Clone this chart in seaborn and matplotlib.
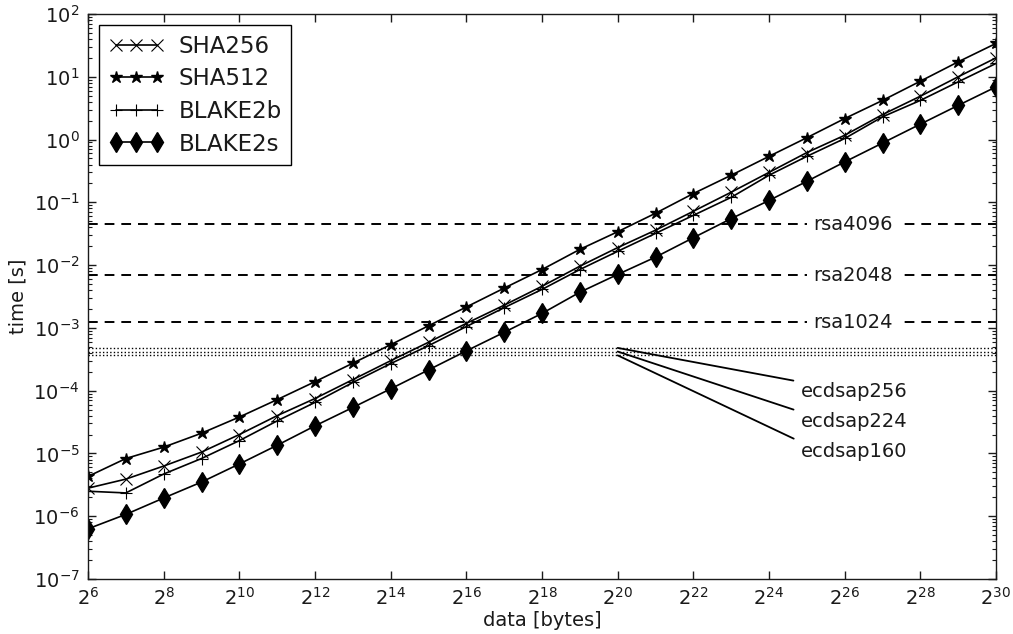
import numpy as np
import pandas as pd
import matplotlib
matplotlib.use("Agg")
import matplotlib.pyplot as plt
import matplotlib.ticker as mticker
import matplotlib.transforms as mtrans
import seaborn as sns

# ---------------- data ----------------
exponents = list(range(6, 31))  # data sizes 2^6 .. 2^30 bytes
sha256 = [2.8e-6, 3.9e-6, 6.3e-6, 1.05e-5, 2.0e-5, 4.0e-5, 7.5e-5, 1.5e-4, 3.0e-4,
          5.9e-4, 1.18e-3, 2.3e-3, 4.6e-3, 9.6e-3, 1.9e-2, 3.6e-2, 7.2e-2, 0.145,
          0.30, 0.62, 1.17, 2.5, 4.9, 10.0, 20.0]
sha512 = [4.3e-6, 8.3e-6, 1.26e-5, 2.1e-5, 3.8e-5, 7.2e-5, 1.39e-4, 2.74e-4, 5.4e-4,
          1.08e-3, 2.15e-3, 4.3e-3, 8.5e-3, 1.78e-2, 3.4e-2, 6.7e-2, 0.138, 0.27,
          0.54, 1.07, 2.16, 4.2, 8.5, 17.3, 34.0]
blake2b = [2.5e-6, 2.35e-6, 4.7e-6, 8.3e-6, 1.6e-5, 3.3e-5, 6.5e-5, 1.35e-4, 2.7e-4,
           5.2e-4, 1.05e-3, 2.1e-3, 4.1e-3, 8.5e-3, 1.66e-2, 3.2e-2, 6.2e-2, 0.12,
           0.27, 0.54, 1.04, 2.3, 4.2, 8.3, 16.3]
blake2s = [6.3e-7, 1.07e-6, 1.95e-6, 3.5e-6, 6.8e-6, 1.35e-5, 2.75e-5, 5.4e-5, 1.07e-4,
           2.14e-4, 4.3e-4, 8.5e-4, 1.7e-3, 3.7e-3, 7.1e-3, 1.34e-2, 2.73e-2, 5.5e-2,
           0.107, 0.216, 0.44, 0.88, 1.76, 3.5, 6.9]
series_names = ["SHA256", "SHA512", "BLAKE2b", "BLAKE2s"]

rsa_names = ["rsa4096", "rsa2048", "rsa1024"]
rsa_times = [0.045, 0.0069, 0.00123]
ecdsa_names = ["ecdsap256", "ecdsap224", "ecdsap160"]
ecdsa_times = [4.8e-4, 4.2e-4, 3.65e-4]
ecdsa_anchor_exp = 20

x_tick_exponents = list(range(6, 31, 2))
y_tick_exponents = list(range(-7, 3))

# ---------------- style ----------------
sns.set_theme(style="ticks", rc={
    "axes.edgecolor": "k",
    "axes.linewidth": 1.0,
    "xtick.color": "k",
    "ytick.color": "k",
    "text.color": "k",
    "axes.labelcolor": "k",
    "lines.scale_dashes": False,
    "mathtext.fontset": "dejavusans",
    "mathtext.default": "regular",
})
plt.rcParams["font.family"] = ["DejaVu Sans"]

sizes = [2 ** e for e in exponents]
df = pd.DataFrame({
    "size": sizes * 4,
    "time": sha256 + sha512 + blake2b + blake2s,
    "algo": sum([[n] * len(sizes) for n in series_names], []),
})

markers = {"SHA256": "x", "SHA512": "*", "BLAKE2b": "+", "BLAKE2s": "d"}
msizes = {"SHA256": 9, "SHA512": 9, "BLAKE2b": 9, "BLAKE2s": 10}
mews = {"SHA256": 0.8, "SHA512": 1.0, "BLAKE2b": 0.8, "BLAKE2s": 1.0}

fig = plt.figure(figsize=(10.13, 6.34), dpi=100)
ax = fig.add_axes([88 / 1013, 1 - 579 / 634, (996 - 88) / 1013, (579 - 14) / 634])

for name in series_names:
    sub = df[df["algo"] == name]
    sns.lineplot(data=sub, x="size", y="time", ax=ax, color="black", linewidth=1.2,
                 marker=markers[name], markersize=msizes[name],
                 markeredgecolor="black", markerfacecolor="black",
                 markeredgewidth=mews[name], label=name, legend=False)
for ln in ax.get_lines():
    ln.set_color("black")
    ln.set_markeredgecolor("black")
    ln.set_markerfacecolor("black")

# reference lines
for name, t in zip(rsa_names, rsa_times):
    ax.axhline(t, color="black", lw=1.4, ls=(0, (7, 5)), zorder=1)
    ax.text(0.8425, t, name, transform=mtrans.blended_transform_factory(ax.transAxes, ax.transData),
            ha="center", va="center", fontsize=14,
            bbox=dict(boxstyle="square,pad=0.3", fc="white", ec="none"), zorder=3)

text_pos_y = [0.3487, 0.2956, 0.2425]
for name, t, ty in zip(ecdsa_names, ecdsa_times, text_pos_y):
    ax.axhline(t, color="black", lw=1.0, ls=(0, (1, 1.6)), zorder=1)
    ax.annotate(name, xy=(2 ** ecdsa_anchor_exp, t), xycoords="data",
                xytext=(0.785, ty), textcoords="axes fraction",
                ha="left", va="top", fontsize=14,
                arrowprops=dict(arrowstyle="-", color="black", lw=1.3, relpos=(0, 1),
                                shrinkA=3, shrinkB=0))

# axes
ax.set_xscale("log", base=2)
ax.set_yscale("log")
ax.set_xlim(2 ** 6, 2 ** 30)
ax.set_ylim(1e-7, 1e2)
ax.xaxis.set_major_locator(mticker.FixedLocator([2.0 ** e for e in x_tick_exponents]))
ax.xaxis.set_major_formatter(mticker.LogFormatterSciNotation(base=2))
ax.xaxis.set_minor_locator(mticker.NullLocator())
ax.yaxis.set_major_locator(mticker.FixedLocator([10.0 ** e for e in y_tick_exponents]))
ax.yaxis.set_major_formatter(mticker.LogFormatterSciNotation(base=10))
minor_y = [m * 10.0 ** e for e in y_tick_exponents[:-1] for m in range(2, 10)]
ax.yaxis.set_minor_locator(mticker.FixedLocator(minor_y))
ax.yaxis.set_minor_formatter(mticker.NullFormatter())
ax.tick_params(which="both", direction="in", top=True, right=True, labelsize=14)
ax.tick_params(which="major", length=6, width=1, pad=6)
ax.tick_params(which="minor", length=3, width=0.8)
ax.xaxis.offsetText.set_visible(False)
ax.yaxis.offsetText.set_visible(False)

ax.set_xlabel("data [bytes]", fontsize=14, labelpad=1)
ax.set_ylabel("time [s]", fontsize=14, labelpad=4)

leg = ax.legend(loc="upper left", numpoints=3, fontsize=16.5, frameon=True, fancybox=False,
                edgecolor="black", framealpha=1, handlelength=2.4, handletextpad=0.65,
                labelspacing=0.42, borderpad=0.4, borderaxespad=0.5)
leg.get_frame().set_linewidth(1.0)

fig.savefig("out.png", dpi=100)
